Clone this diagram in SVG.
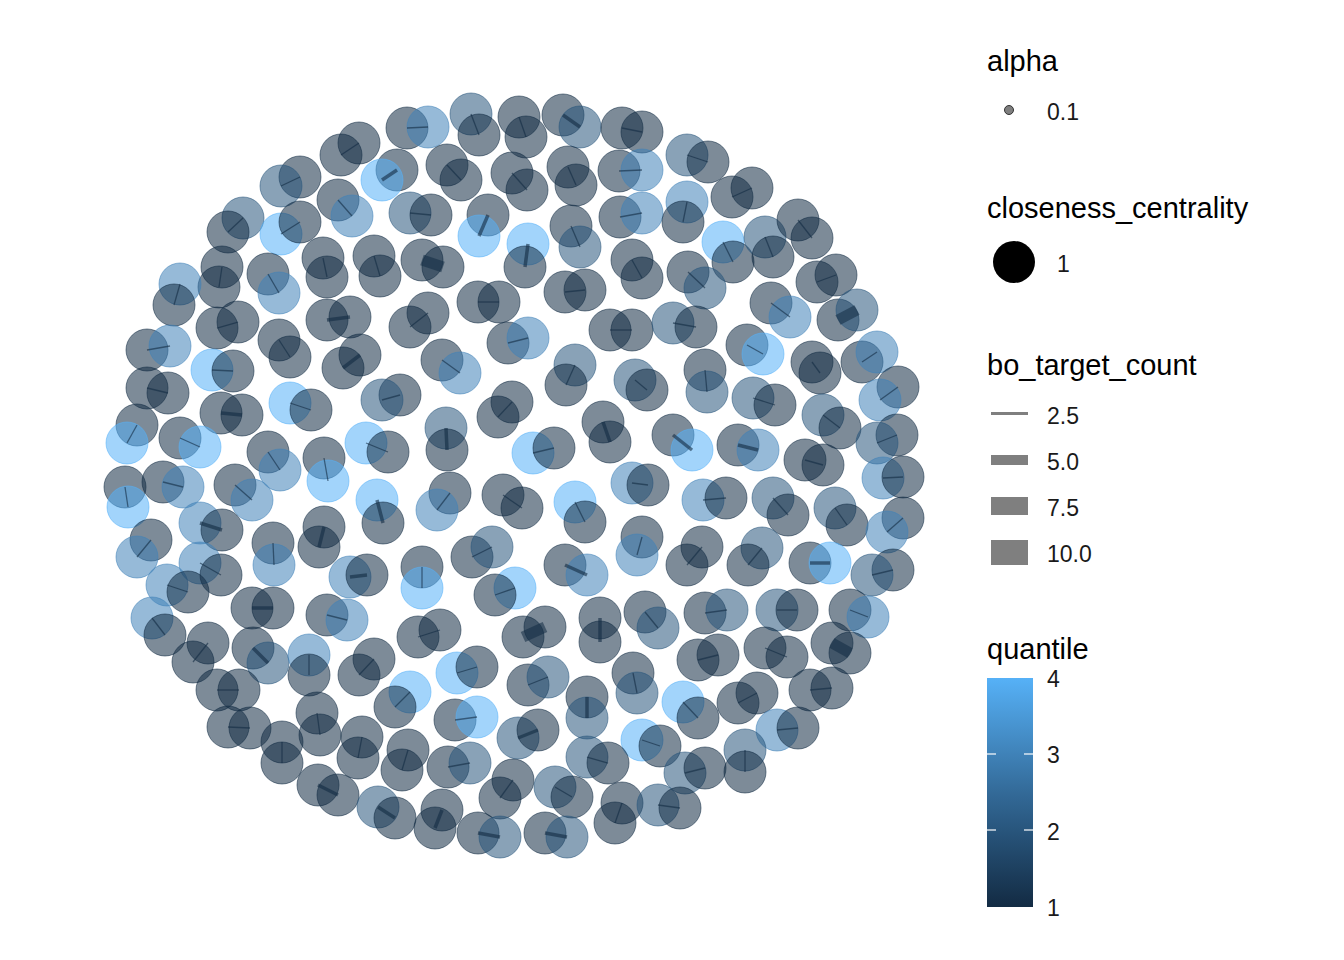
<svg xmlns="http://www.w3.org/2000/svg" width="1344" height="960" viewBox="0 0 1344 960">
<defs>
<style>
.d,.m,.b,.l{fill-opacity:.55;stroke-opacity:.55;stroke-width:1}
.d{fill:#132B43;stroke:#132B43}
.m{fill:#28557C;stroke:#28557C}
.b{fill:#3F82B8;stroke:#3F82B8}
.l{fill:#56B1F7;stroke:#56B1F7}
.e1{stroke:#132B43;stroke-opacity:.6;stroke-width:1.3}
.e2{stroke:#132B43;stroke-opacity:.6;stroke-width:3.5}
.e3{stroke:#132B43;stroke-opacity:.55;stroke-width:11}
.t{font-family:"Liberation Sans",Arial,sans-serif;font-size:29px;fill:#000}
.k{font-family:"Liberation Sans",Arial,sans-serif;font-size:23px;fill:#1a1a1a}
</style>
<linearGradient id="qg" x1="0" y1="1" x2="0" y2="0">
<stop offset="0" stop-color="#132B43"/>
<stop offset="0.333" stop-color="#28557C"/>
<stop offset="0.5" stop-color="#336A98"/>
<stop offset="0.667" stop-color="#3F82B8"/>
<stop offset="1" stop-color="#56B1F7"/>
</linearGradient>
</defs>
<rect width="1344" height="960" fill="#fff"/>
<g id="nodes">
<g id="p1"><circle class="d" cx="359" cy="143" r="21"/><circle class="d" cx="341" cy="155" r="21"/></g>
<g id="p2"><circle class="d" cx="300" cy="177" r="21"/><circle class="m" cx="281" cy="186" r="21"/></g>
<g id="p3"><circle class="d" cx="338" cy="200" r="21"/><circle class="b" cx="352" cy="216" r="21"/></g>
<g id="p4"><circle class="m" cx="243" cy="218" r="21"/><circle class="d" cx="228" cy="232" r="21"/></g>
<g id="p5"><circle class="l" cx="281" cy="234" r="21"/><circle class="d" cx="300" cy="222" r="21"/></g>
<g id="p6"><circle class="d" cx="323" cy="258" r="21"/><circle class="d" cx="327" cy="277" r="21"/></g>
<g id="p7"><circle class="d" cx="222" cy="267" r="21"/><circle class="d" cx="219" cy="287" r="21"/></g>
<g id="p8"><circle class="d" cx="268" cy="274" r="21"/><circle class="b" cx="279" cy="293" r="21"/></g>
<g id="p9"><circle class="b" cx="180" cy="284" r="21"/><circle class="d" cx="174" cy="305" r="21"/></g>
<g id="p10"><circle class="d" cx="327" cy="320" r="21"/><circle class="d" cx="350" cy="317" r="21"/></g>
<g id="p11"><circle class="d" cx="217" cy="328" r="21"/><circle class="d" cx="238" cy="322" r="21"/></g>
<g id="p12"><circle class="d" cx="374" cy="256" r="21"/><circle class="d" cx="380" cy="276" r="21"/></g>
<g id="p13"><circle class="d" cx="147" cy="350" r="21"/><circle class="b" cx="170" cy="346" r="21"/></g>
<g id="p15"><circle class="d" cx="407" cy="128" r="21"/><circle class="b" cx="428" cy="127" r="21"/></g>
<g id="p16"><circle class="m" cx="471" cy="114" r="21"/><circle class="d" cx="479" cy="135" r="21"/></g>
<g id="p17"><circle class="d" cx="519" cy="117" r="21"/><circle class="d" cx="526" cy="137" r="21"/></g>
<g id="p18"><circle class="d" cx="563" cy="115" r="21"/><circle class="m" cx="580" cy="127" r="21"/></g>
<g id="p19"><circle class="d" cx="622" cy="128" r="21"/><circle class="d" cx="642" cy="132" r="21"/></g>
<g id="p20"><circle class="d" cx="397" cy="170" r="21"/><circle class="l" cx="382" cy="180" r="21"/></g>
<g id="p21"><circle class="d" cx="447" cy="165" r="21"/><circle class="d" cx="461" cy="180" r="21"/></g>
<g id="p22"><circle class="d" cx="512" cy="173" r="21"/><circle class="d" cx="527" cy="190" r="21"/></g>
<g id="p23"><circle class="d" cx="568" cy="167" r="21"/><circle class="d" cx="576" cy="185" r="21"/></g>
<g id="p24"><circle class="d" cx="619" cy="171" r="21"/><circle class="b" cx="642" cy="170" r="21"/></g>
<g id="p25"><circle class="m" cx="410" cy="213" r="21"/><circle class="d" cx="431" cy="215" r="21"/></g>
<g id="p26"><circle class="d" cx="488" cy="215" r="21"/><circle class="l" cx="479" cy="236" r="21"/></g>
<g id="p27"><circle class="l" cx="528" cy="244" r="21"/><circle class="d" cx="525" cy="267" r="21"/></g>
<g id="p28"><circle class="d" cx="571" cy="226" r="21"/><circle class="m" cx="580" cy="247" r="21"/></g>
<g id="p29"><circle class="d" cx="620" cy="217" r="21"/><circle class="b" cx="642" cy="213" r="21"/></g>
<g id="p30"><circle class="d" cx="422" cy="260" r="21"/><circle class="d" cx="443" cy="267" r="21"/></g>
<g id="p31"><circle class="d" cx="632" cy="260" r="21"/><circle class="d" cx="642" cy="278" r="21"/></g>
<g id="p32"><circle class="d" cx="478" cy="302" r="21"/><circle class="d" cx="499" cy="302" r="21"/></g>
<g id="p33"><circle class="d" cx="565" cy="292" r="21"/><circle class="d" cx="585" cy="290" r="21"/></g>
<g id="p34"><circle class="d" cx="410" cy="327" r="21"/><circle class="d" cx="428" cy="313" r="21"/></g>
<g id="p35"><circle class="d" cx="508" cy="343" r="21"/><circle class="b" cx="528" cy="338" r="21"/></g>
<g id="p36"><circle class="d" cx="610" cy="330" r="21"/><circle class="d" cx="632" cy="330" r="21"/></g>
<g id="p37"><circle class="m" cx="687" cy="155" r="21"/><circle class="d" cx="708" cy="162" r="21"/></g>
<g id="p38"><circle class="d" cx="732" cy="197" r="21"/><circle class="d" cx="752" cy="188" r="21"/></g>
<g id="p39"><circle class="b" cx="687" cy="202" r="21"/><circle class="d" cx="683" cy="222" r="21"/></g>
<g id="p40"><circle class="l" cx="723" cy="242" r="21"/><circle class="d" cx="733" cy="262" r="21"/></g>
<g id="p41"><circle class="m" cx="765" cy="237" r="21"/><circle class="d" cx="773" cy="257" r="21"/></g>
<g id="p42"><circle class="d" cx="798" cy="220" r="21"/><circle class="d" cx="812" cy="238" r="21"/></g>
<g id="p43"><circle class="d" cx="688" cy="272" r="21"/><circle class="m" cx="705" cy="288" r="21"/></g>
<g id="p44"><circle class="d" cx="817" cy="282" r="21"/><circle class="d" cx="836" cy="275" r="21"/></g>
<g id="p45"><circle class="m" cx="673" cy="323" r="21"/><circle class="d" cx="696" cy="327" r="21"/></g>
<g id="p46"><circle class="d" cx="771" cy="303" r="21"/><circle class="b" cx="790" cy="317" r="21"/></g>
<g id="p47"><circle class="d" cx="838" cy="320" r="21"/><circle class="m" cx="857" cy="310" r="21"/></g>
<g id="p48"><circle class="d" cx="747" cy="345" r="21"/><circle class="l" cx="763" cy="354" r="21"/></g>
<g id="p51"><circle class="l" cx="212" cy="370" r="21"/><circle class="d" cx="233" cy="371" r="21"/></g>
<g id="p52"><circle class="d" cx="147" cy="388" r="21"/><circle class="d" cx="168" cy="393" r="21"/></g>
<g id="p53"><circle class="l" cx="290" cy="403" r="21"/><circle class="d" cx="311" cy="410" r="21"/></g>
<g id="p54"><circle class="d" cx="221" cy="413" r="21"/><circle class="d" cx="242" cy="415" r="21"/></g>
<g id="p55"><circle class="d" cx="137" cy="425" r="21"/><circle class="l" cx="127" cy="443" r="21"/></g>
<g id="p56"><circle class="d" cx="180" cy="438" r="21"/><circle class="l" cx="200" cy="447" r="21"/></g>
<g id="p57"><circle class="d" cx="268" cy="452" r="21"/><circle class="b" cx="280" cy="470" r="21"/></g>
<g id="p58"><circle class="d" cx="324" cy="458" r="21"/><circle class="l" cx="328" cy="481" r="21"/></g>
<g id="p59"><circle class="l" cx="366" cy="443" r="21"/><circle class="d" cx="388" cy="452" r="21"/></g>
<g id="p60"><circle class="d" cx="125" cy="487" r="21"/><circle class="l" cx="128" cy="507" r="21"/></g>
<g id="p61"><circle class="d" cx="163" cy="482" r="21"/><circle class="b" cx="183" cy="487" r="21"/></g>
<g id="p62"><circle class="d" cx="235" cy="485" r="21"/><circle class="b" cx="252" cy="500" r="21"/></g>
<g id="p63"><circle class="l" cx="377" cy="500" r="21"/><circle class="d" cx="383" cy="523" r="21"/></g>
<g id="p64"><circle class="b" cx="200" cy="523" r="21"/><circle class="d" cx="222" cy="530" r="21"/></g>
<g id="p65"><circle class="d" cx="324" cy="527" r="21"/><circle class="d" cx="319" cy="547" r="21"/></g>
<g id="p66"><circle class="d" cx="151" cy="540" r="21"/><circle class="b" cx="137" cy="557" r="21"/></g>
<g id="p67"><circle class="d" cx="273" cy="543" r="21"/><circle class="b" cx="274" cy="565" r="21"/></g>
<g id="p68"><circle class="b" cx="200" cy="563" r="21"/><circle class="d" cx="221" cy="575" r="21"/></g>
<g id="p69"><circle class="b" cx="167" cy="585" r="21"/><circle class="d" cx="188" cy="592" r="21"/></g>
<g id="p70"><circle class="b" cx="350" cy="577" r="21"/><circle class="d" cx="367" cy="575" r="21"/></g>
<g id="p71"><circle class="d" cx="252" cy="608" r="21"/><circle class="d" cx="273" cy="608" r="21"/></g>
<g id="p72"><circle class="d" cx="327" cy="615" r="21"/><circle class="b" cx="347" cy="620" r="21"/></g>
<g id="p73"><circle class="d" cx="343" cy="368" r="21"/><circle class="d" cx="360" cy="355" r="21"/></g>
<g id="p74"><circle class="d" cx="279" cy="340" r="21"/><circle class="d" cx="290" cy="357" r="21"/></g>
<g id="p75"><circle class="d" cx="442" cy="360" r="21"/><circle class="b" cx="460" cy="373" r="21"/></g>
<g id="p76"><circle class="m" cx="575" cy="365" r="21"/><circle class="d" cx="566" cy="385" r="21"/></g>
<g id="p77"><circle class="m" cx="635" cy="380" r="21"/><circle class="d" cx="647" cy="390" r="21"/></g>
<g id="p78"><circle class="d" cx="400" cy="395" r="21"/><circle class="m" cx="382" cy="400" r="21"/></g>
<g id="p79"><circle class="d" cx="512" cy="402" r="21"/><circle class="d" cx="498" cy="417" r="21"/></g>
<g id="p80"><circle class="m" cx="446" cy="428" r="21"/><circle class="d" cx="447" cy="450" r="21"/></g>
<g id="p81"><circle class="d" cx="603" cy="422" r="21"/><circle class="d" cx="610" cy="442" r="21"/></g>
<g id="p82"><circle class="l" cx="533" cy="453" r="21"/><circle class="d" cx="554" cy="448" r="21"/></g>
<g id="p83"><circle class="b" cx="632" cy="483" r="21"/><circle class="d" cx="648" cy="485" r="21"/></g>
<g id="p84"><circle class="d" cx="450" cy="493" r="21"/><circle class="b" cx="437" cy="510" r="21"/></g>
<g id="p85"><circle class="d" cx="503" cy="495" r="21"/><circle class="d" cx="522" cy="508" r="21"/></g>
<g id="p86"><circle class="l" cx="575" cy="502" r="21"/><circle class="d" cx="585" cy="522" r="21"/></g>
<g id="p87"><circle class="d" cx="642" cy="537" r="21"/><circle class="b" cx="637" cy="555" r="21"/></g>
<g id="p88"><circle class="d" cx="472" cy="557" r="21"/><circle class="m" cx="492" cy="547" r="21"/></g>
<g id="p89"><circle class="d" cx="565" cy="565" r="21"/><circle class="b" cx="587" cy="575" r="21"/></g>
<g id="p90"><circle class="d" cx="422" cy="567" r="21"/><circle class="l" cx="422" cy="588" r="21"/></g>
<g id="p91"><circle class="l" cx="515" cy="588" r="21"/><circle class="d" cx="495" cy="595" r="21"/></g>
<g id="p92"><circle class="d" cx="705" cy="370" r="21"/><circle class="m" cx="707" cy="392" r="21"/></g>
<g id="p93"><circle class="d" cx="812" cy="362" r="21"/><circle class="d" cx="820" cy="373" r="21"/></g>
<g id="p94"><circle class="d" cx="862" cy="362" r="21"/><circle class="b" cx="877" cy="352" r="21"/></g>
<g id="p95"><circle class="m" cx="753" cy="398" r="21"/><circle class="d" cx="775" cy="405" r="21"/></g>
<g id="p96"><circle class="m" cx="823" cy="415" r="21"/><circle class="d" cx="840" cy="428" r="21"/></g>
<g id="p97"><circle class="d" cx="898" cy="387" r="21"/><circle class="b" cx="880" cy="400" r="21"/></g>
<g id="p98"><circle class="d" cx="673" cy="435" r="21"/><circle class="l" cx="692" cy="450" r="21"/></g>
<g id="p99"><circle class="d" cx="738" cy="445" r="21"/><circle class="b" cx="758" cy="450" r="21"/></g>
<g id="p100"><circle class="d" cx="805" cy="460" r="21"/><circle class="d" cx="823" cy="465" r="21"/></g>
<g id="p101"><circle class="d" cx="897" cy="435" r="21"/><circle class="m" cx="877" cy="443" r="21"/></g>
<g id="p102"><circle class="b" cx="883" cy="478" r="21"/><circle class="d" cx="903" cy="477" r="21"/></g>
<g id="p103"><circle class="b" cx="703" cy="500" r="21"/><circle class="d" cx="726" cy="498" r="21"/></g>
<g id="p104"><circle class="m" cx="773" cy="498" r="21"/><circle class="d" cx="788" cy="515" r="21"/></g>
<g id="p105"><circle class="m" cx="835" cy="508" r="21"/><circle class="d" cx="847" cy="525" r="21"/></g>
<g id="p106"><circle class="d" cx="903" cy="518" r="21"/><circle class="b" cx="887" cy="532" r="21"/></g>
<g id="p107"><circle class="d" cx="702" cy="547" r="21"/><circle class="d" cx="687" cy="565" r="21"/></g>
<g id="p108"><circle class="m" cx="762" cy="548" r="21"/><circle class="d" cx="748" cy="565" r="21"/></g>
<g id="p109"><circle class="d" cx="810" cy="563" r="21"/><circle class="l" cx="830" cy="563" r="21"/></g>
<g id="p110"><circle class="d" cx="893" cy="570" r="21"/><circle class="m" cx="872" cy="575" r="21"/></g>
<g id="p111"><circle class="b" cx="152" cy="618" r="21"/><circle class="d" cx="165" cy="635" r="21"/></g>
<g id="p112"><circle class="d" cx="208" cy="643" r="21"/><circle class="d" cx="193" cy="662" r="21"/></g>
<g id="p113"><circle class="d" cx="253" cy="648" r="21"/><circle class="m" cx="268" cy="663" r="21"/></g>
<g id="p114"><circle class="b" cx="309" cy="655" r="21"/><circle class="d" cx="309" cy="675" r="21"/></g>
<g id="p115"><circle class="d" cx="374" cy="659" r="21"/><circle class="d" cx="359" cy="675" r="21"/></g>
<g id="p116"><circle class="d" cx="217" cy="690" r="21"/><circle class="d" cx="239" cy="690" r="21"/></g>
<g id="p117"><circle class="d" cx="228" cy="727" r="21"/><circle class="d" cx="250" cy="728" r="21"/></g>
<g id="p118"><circle class="d" cx="317" cy="713" r="21"/><circle class="d" cx="320" cy="735" r="21"/></g>
<g id="p119"><circle class="d" cx="282" cy="742" r="21"/><circle class="d" cx="282" cy="763" r="21"/></g>
<g id="p120"><circle class="d" cx="362" cy="737" r="21"/><circle class="d" cx="358" cy="758" r="21"/></g>
<g id="p121"><circle class="d" cx="318" cy="785" r="21"/><circle class="d" cx="338" cy="795" r="21"/></g>
<g id="p122"><circle class="m" cx="378" cy="807" r="21"/><circle class="d" cx="395" cy="818" r="21"/></g>
<g id="p123"><circle class="d" cx="418" cy="637" r="21"/><circle class="d" cx="440" cy="630" r="21"/></g>
<g id="p124"><circle class="d" cx="523" cy="637" r="21"/><circle class="d" cx="545" cy="627" r="21"/></g>
<g id="p125"><circle class="d" cx="600" cy="618" r="21"/><circle class="d" cx="600" cy="642" r="21"/></g>
<g id="p126"><circle class="d" cx="645" cy="612" r="21"/><circle class="m" cx="658" cy="628" r="21"/></g>
<g id="p127"><circle class="l" cx="457" cy="673" r="21"/><circle class="d" cx="477" cy="667" r="21"/></g>
<g id="p128"><circle class="d" cx="528" cy="685" r="21"/><circle class="m" cx="548" cy="677" r="21"/></g>
<g id="p129"><circle class="l" cx="410" cy="692" r="21"/><circle class="d" cx="395" cy="707" r="21"/></g>
<g id="p130"><circle class="d" cx="587" cy="697" r="21"/><circle class="m" cx="587" cy="718" r="21"/></g>
<g id="p131"><circle class="d" cx="633" cy="673" r="21"/><circle class="m" cx="637" cy="693" r="21"/></g>
<g id="p132"><circle class="d" cx="455" cy="720" r="21"/><circle class="l" cx="477" cy="717" r="21"/></g>
<g id="p133"><circle class="m" cx="518" cy="738" r="21"/><circle class="d" cx="538" cy="730" r="21"/></g>
<g id="p134"><circle class="l" cx="642" cy="740" r="21"/><circle class="d" cx="660" cy="746" r="21"/></g>
<g id="p136"><circle class="d" cx="408" cy="750" r="21"/><circle class="d" cx="402" cy="770" r="21"/></g>
<g id="p137"><circle class="d" cx="448" cy="767" r="21"/><circle class="m" cx="470" cy="763" r="21"/></g>
<g id="p138"><circle class="d" cx="513" cy="780" r="21"/><circle class="d" cx="500" cy="798" r="21"/></g>
<g id="p139"><circle class="m" cx="587" cy="757" r="21"/><circle class="d" cx="608" cy="763" r="21"/></g>
<g id="p140"><circle class="m" cx="555" cy="787" r="21"/><circle class="d" cx="572" cy="797" r="21"/></g>
<g id="p141"><circle class="d" cx="622" cy="803" r="21"/><circle class="d" cx="615" cy="823" r="21"/></g>
<g id="p142"><circle class="d" cx="442" cy="810" r="21"/><circle class="d" cx="435" cy="828" r="21"/></g>
<g id="p143"><circle class="d" cx="478" cy="833" r="21"/><circle class="m" cx="500" cy="837" r="21"/></g>
<g id="p144"><circle class="d" cx="545" cy="833" r="21"/><circle class="m" cx="567" cy="837" r="21"/></g>
<g id="p145"><circle class="d" cx="705" cy="613" r="21"/><circle class="m" cx="727" cy="610" r="21"/></g>
<g id="p146"><circle class="m" cx="777" cy="610" r="21"/><circle class="d" cx="797" cy="610" r="21"/></g>
<g id="p147"><circle class="d" cx="850" cy="610" r="21"/><circle class="b" cx="868" cy="617" r="21"/></g>
<g id="p148"><circle class="d" cx="698" cy="660" r="21"/><circle class="d" cx="718" cy="655" r="21"/></g>
<g id="p149"><circle class="d" cx="765" cy="648" r="21"/><circle class="d" cx="787" cy="657" r="21"/></g>
<g id="p150"><circle class="d" cx="832" cy="643" r="21"/><circle class="d" cx="850" cy="653" r="21"/></g>
<g id="p151"><circle class="d" cx="738" cy="703" r="21"/><circle class="d" cx="757" cy="693" r="21"/></g>
<g id="p152"><circle class="d" cx="810" cy="690" r="21"/><circle class="d" cx="832" cy="688" r="21"/></g>
<g id="p153"><circle class="l" cx="683" cy="702" r="21"/><circle class="d" cx="698" cy="718" r="21"/></g>
<g id="p154"><circle class="b" cx="777" cy="730" r="21"/><circle class="d" cx="798" cy="728" r="21"/></g>
<g id="p155"><circle class="m" cx="745" cy="750" r="21"/><circle class="d" cx="745" cy="772" r="21"/></g>
<g id="p156"><circle class="m" cx="685" cy="773" r="21"/><circle class="d" cx="705" cy="768" r="21"/></g>
<g id="p157"><circle class="m" cx="658" cy="805" r="21"/><circle class="d" cx="680" cy="808" r="21"/></g>
</g>
<g id="edges">
<line class="e1" x1="359" y1="143" x2="341" y2="155"/>
<line class="e1" x1="300" y1="177" x2="281" y2="186"/>
<line class="e1" x1="338" y1="200" x2="352" y2="216"/>
<line class="e1" x1="243" y1="218" x2="228" y2="232"/>
<line class="e1" x1="281" y1="234" x2="300" y2="222"/>
<line class="e1" x1="323" y1="258" x2="327" y2="277"/>
<line class="e1" x1="222" y1="267" x2="219" y2="287"/>
<line class="e1" x1="268" y1="274" x2="279" y2="293"/>
<line class="e1" x1="180" y1="284" x2="174" y2="305"/>
<line class="e2" x1="327" y1="320" x2="350" y2="317"/>
<line class="e1" x1="217" y1="328" x2="238" y2="322"/>
<line class="e1" x1="374" y1="256" x2="380" y2="276"/>
<line class="e1" x1="147" y1="350" x2="170" y2="346"/>
<line class="e1" x1="407" y1="128" x2="428" y2="127"/>
<line class="e1" x1="471" y1="114" x2="479" y2="135"/>
<line class="e1" x1="519" y1="117" x2="526" y2="137"/>
<line class="e2" x1="563" y1="115" x2="580" y2="127"/>
<line class="e1" x1="622" y1="128" x2="642" y2="132"/>
<line class="e2" x1="397" y1="170" x2="382" y2="180"/>
<line class="e1" x1="447" y1="165" x2="461" y2="180"/>
<line class="e1" x1="512" y1="173" x2="527" y2="190"/>
<line class="e1" x1="568" y1="167" x2="576" y2="185"/>
<line class="e1" x1="619" y1="171" x2="642" y2="170"/>
<line class="e1" x1="410" y1="213" x2="431" y2="215"/>
<line class="e2" x1="488" y1="215" x2="479" y2="236"/>
<line class="e2" x1="528" y1="244" x2="525" y2="267"/>
<line class="e1" x1="571" y1="226" x2="580" y2="247"/>
<line class="e1" x1="620" y1="217" x2="642" y2="213"/>
<line class="e3" x1="422" y1="260" x2="443" y2="267"/>
<line class="e1" x1="632" y1="260" x2="642" y2="278"/>
<line class="e1" x1="478" y1="302" x2="499" y2="302"/>
<line class="e1" x1="565" y1="292" x2="585" y2="290"/>
<line class="e1" x1="410" y1="327" x2="428" y2="313"/>
<line class="e1" x1="508" y1="343" x2="528" y2="338"/>
<line class="e1" x1="610" y1="330" x2="632" y2="330"/>
<line class="e1" x1="687" y1="155" x2="708" y2="162"/>
<line class="e1" x1="732" y1="197" x2="752" y2="188"/>
<line class="e1" x1="687" y1="202" x2="683" y2="222"/>
<line class="e1" x1="723" y1="242" x2="733" y2="262"/>
<line class="e1" x1="765" y1="237" x2="773" y2="257"/>
<line class="e1" x1="798" y1="220" x2="812" y2="238"/>
<line class="e1" x1="688" y1="272" x2="705" y2="288"/>
<line class="e1" x1="817" y1="282" x2="836" y2="275"/>
<line class="e1" x1="673" y1="323" x2="696" y2="327"/>
<line class="e1" x1="771" y1="303" x2="790" y2="317"/>
<line class="e3" x1="838" y1="320" x2="857" y2="310"/>
<line class="e1" x1="747" y1="345" x2="763" y2="354"/>
<line class="e1" x1="212" y1="370" x2="233" y2="371"/>
<line class="e1" x1="147" y1="388" x2="168" y2="393"/>
<line class="e1" x1="290" y1="403" x2="311" y2="410"/>
<line class="e2" x1="221" y1="413" x2="242" y2="415"/>
<line class="e1" x1="137" y1="425" x2="127" y2="443"/>
<line class="e1" x1="180" y1="438" x2="200" y2="447"/>
<line class="e1" x1="268" y1="452" x2="280" y2="470"/>
<line class="e1" x1="324" y1="458" x2="328" y2="481"/>
<line class="e1" x1="366" y1="443" x2="388" y2="452"/>
<line class="e1" x1="125" y1="487" x2="128" y2="507"/>
<line class="e1" x1="163" y1="482" x2="183" y2="487"/>
<line class="e1" x1="235" y1="485" x2="252" y2="500"/>
<line class="e2" x1="377" y1="500" x2="383" y2="523"/>
<line class="e2" x1="200" y1="523" x2="222" y2="530"/>
<line class="e2" x1="324" y1="527" x2="319" y2="547"/>
<line class="e1" x1="151" y1="540" x2="137" y2="557"/>
<line class="e1" x1="273" y1="543" x2="274" y2="565"/>
<line class="e1" x1="200" y1="563" x2="221" y2="575"/>
<line class="e1" x1="167" y1="585" x2="188" y2="592"/>
<line class="e2" x1="350" y1="577" x2="367" y2="575"/>
<line class="e2" x1="252" y1="608" x2="273" y2="608"/>
<line class="e1" x1="327" y1="615" x2="347" y2="620"/>
<line class="e2" x1="343" y1="368" x2="360" y2="355"/>
<line class="e1" x1="279" y1="340" x2="290" y2="357"/>
<line class="e1" x1="442" y1="360" x2="460" y2="373"/>
<line class="e1" x1="575" y1="365" x2="566" y2="385"/>
<line class="e1" x1="635" y1="380" x2="647" y2="390"/>
<line class="e1" x1="400" y1="395" x2="382" y2="400"/>
<line class="e1" x1="512" y1="402" x2="498" y2="417"/>
<line class="e2" x1="446" y1="428" x2="447" y2="450"/>
<line class="e2" x1="603" y1="422" x2="610" y2="442"/>
<line class="e1" x1="533" y1="453" x2="554" y2="448"/>
<line class="e1" x1="632" y1="483" x2="648" y2="485"/>
<line class="e1" x1="450" y1="493" x2="437" y2="510"/>
<line class="e1" x1="503" y1="495" x2="522" y2="508"/>
<line class="e1" x1="575" y1="502" x2="585" y2="522"/>
<line class="e1" x1="642" y1="537" x2="637" y2="555"/>
<line class="e1" x1="472" y1="557" x2="492" y2="547"/>
<line class="e2" x1="565" y1="565" x2="587" y2="575"/>
<line class="e1" x1="422" y1="567" x2="422" y2="588"/>
<line class="e1" x1="515" y1="588" x2="495" y2="595"/>
<line class="e1" x1="705" y1="370" x2="707" y2="392"/>
<line class="e1" x1="812" y1="362" x2="820" y2="373"/>
<line class="e1" x1="862" y1="362" x2="877" y2="352"/>
<line class="e1" x1="753" y1="398" x2="775" y2="405"/>
<line class="e1" x1="823" y1="415" x2="840" y2="428"/>
<line class="e1" x1="898" y1="387" x2="880" y2="400"/>
<line class="e2" x1="673" y1="435" x2="692" y2="450"/>
<line class="e2" x1="738" y1="445" x2="758" y2="450"/>
<line class="e1" x1="805" y1="460" x2="823" y2="465"/>
<line class="e1" x1="897" y1="435" x2="877" y2="443"/>
<line class="e1" x1="883" y1="478" x2="903" y2="477"/>
<line class="e1" x1="703" y1="500" x2="726" y2="498"/>
<line class="e1" x1="773" y1="498" x2="788" y2="515"/>
<line class="e1" x1="835" y1="508" x2="847" y2="525"/>
<line class="e1" x1="903" y1="518" x2="887" y2="532"/>
<line class="e1" x1="702" y1="547" x2="687" y2="565"/>
<line class="e1" x1="762" y1="548" x2="748" y2="565"/>
<line class="e2" x1="810" y1="563" x2="830" y2="563"/>
<line class="e1" x1="893" y1="570" x2="872" y2="575"/>
<line class="e1" x1="152" y1="618" x2="165" y2="635"/>
<line class="e1" x1="208" y1="643" x2="193" y2="662"/>
<line class="e2" x1="253" y1="648" x2="268" y2="663"/>
<line class="e1" x1="309" y1="655" x2="309" y2="675"/>
<line class="e1" x1="374" y1="659" x2="359" y2="675"/>
<line class="e1" x1="217" y1="690" x2="239" y2="690"/>
<line class="e1" x1="228" y1="727" x2="250" y2="728"/>
<line class="e1" x1="317" y1="713" x2="320" y2="735"/>
<line class="e1" x1="282" y1="742" x2="282" y2="763"/>
<line class="e1" x1="362" y1="737" x2="358" y2="758"/>
<line class="e2" x1="318" y1="785" x2="338" y2="795"/>
<line class="e2" x1="378" y1="807" x2="395" y2="818"/>
<line class="e1" x1="418" y1="637" x2="440" y2="630"/>
<line class="e3" x1="523" y1="637" x2="545" y2="627"/>
<line class="e2" x1="600" y1="618" x2="600" y2="642"/>
<line class="e1" x1="645" y1="612" x2="658" y2="628"/>
<line class="e1" x1="457" y1="673" x2="477" y2="667"/>
<line class="e1" x1="528" y1="685" x2="548" y2="677"/>
<line class="e1" x1="410" y1="692" x2="395" y2="707"/>
<line class="e2" x1="587" y1="697" x2="587" y2="718"/>
<line class="e1" x1="633" y1="673" x2="637" y2="693"/>
<line class="e1" x1="455" y1="720" x2="477" y2="717"/>
<line class="e2" x1="518" y1="738" x2="538" y2="730"/>
<line class="e1" x1="642" y1="740" x2="660" y2="746"/>
<line class="e1" x1="408" y1="750" x2="402" y2="770"/>
<line class="e1" x1="448" y1="767" x2="470" y2="763"/>
<line class="e1" x1="513" y1="780" x2="500" y2="798"/>
<line class="e1" x1="587" y1="757" x2="608" y2="763"/>
<line class="e1" x1="555" y1="787" x2="572" y2="797"/>
<line class="e1" x1="622" y1="803" x2="615" y2="823"/>
<line class="e2" x1="442" y1="810" x2="435" y2="828"/>
<line class="e2" x1="478" y1="833" x2="500" y2="837"/>
<line class="e2" x1="545" y1="833" x2="567" y2="837"/>
<line class="e1" x1="705" y1="613" x2="727" y2="610"/>
<line class="e1" x1="777" y1="610" x2="797" y2="610"/>
<line class="e1" x1="850" y1="610" x2="868" y2="617"/>
<line class="e1" x1="698" y1="660" x2="718" y2="655"/>
<line class="e1" x1="765" y1="648" x2="787" y2="657"/>
<line class="e3" x1="832" y1="643" x2="850" y2="653"/>
<line class="e1" x1="738" y1="703" x2="757" y2="693"/>
<line class="e1" x1="810" y1="690" x2="832" y2="688"/>
<line class="e1" x1="683" y1="702" x2="698" y2="718"/>
<line class="e1" x1="777" y1="730" x2="798" y2="728"/>
<line class="e1" x1="745" y1="750" x2="745" y2="772"/>
<line class="e1" x1="685" y1="773" x2="705" y2="768"/>
<line class="e1" x1="658" y1="805" x2="680" y2="808"/>
</g>
<g id="legend-alpha">
<text class="t" x="987" y="71">alpha</text>
<circle cx="1009" cy="110" r="4.5" fill="#7f7f7f" stroke="#333" stroke-width="1"/>
<text class="k" x="1047" y="120">0.1</text>
</g>
<g id="legend-closeness">
<text class="t" x="987" y="218">closeness_centrality</text>
<circle cx="1014" cy="262" r="21" fill="#000"/>
<text class="k" x="1057" y="272">1</text>
</g>
<g id="legend-bo">
<text class="t" x="987" y="375">bo_target_count</text>
<rect x="991" y="412" width="37" height="3" fill="#7f7f7f"/>
<rect x="991" y="455" width="37" height="10" fill="#7f7f7f"/>
<rect x="991" y="497" width="37" height="18" fill="#7f7f7f"/>
<rect x="991" y="540" width="37" height="25" fill="#7f7f7f"/>
<text class="k" x="1047" y="424">2.5</text>
<text class="k" x="1047" y="470">5.0</text>
<text class="k" x="1047" y="516">7.5</text>
<text class="k" x="1047" y="562">10.0</text>
</g>
<g id="legend-quantile">
<text class="t" x="987" y="659">quantile</text>
<rect x="987" y="678" width="46" height="229" fill="url(#qg)"/>
<g stroke="#fff" stroke-width="1.2">
<line x1="987" y1="754" x2="996" y2="754"/><line x1="1024" y1="754" x2="1033" y2="754"/>
<line x1="987" y1="830" x2="996" y2="830"/><line x1="1024" y1="830" x2="1033" y2="830"/>
</g>
<text class="k" x="1047" y="687">4</text>
<text class="k" x="1047" y="763">3</text>
<text class="k" x="1047" y="840">2</text>
<text class="k" x="1047" y="916">1</text>
</g>
</svg>
